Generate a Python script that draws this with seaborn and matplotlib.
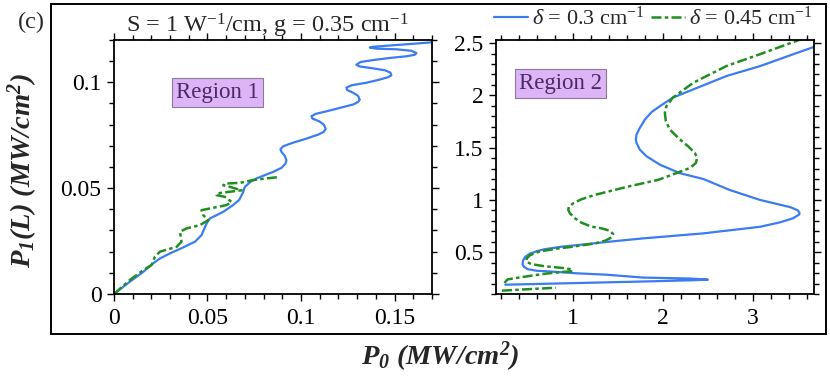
import seaborn as sns
import matplotlib.pyplot as plt
from matplotlib.patches import Rectangle
from matplotlib.lines import Line2D
from matplotlib.ticker import MultipleLocator, FuncFormatter

# Region 1 (left panel)
r1_blue_x = [0, 0.0085, 0.0157, 0.021, 0.0246, 0.030, 0.037, 0.0433, 0.0468, 0.0495, 0.0513,
             0.0584, 0.0637, 0.0670, 0.0690, 0.0700, 0.0730, 0.0762, 0.0851, 0.0896, 0.0917,
             0.0922, 0.0913, 0.0896, 0.0890, 0.0905, 0.0958, 0.1029, 0.1092, 0.1122, 0.1132,
             0.1122, 0.1097, 0.1061, 0.1056, 0.1079, 0.1136, 0.1207, 0.1278, 0.1305, 0.1314,
             0.1305, 0.1278, 0.1246, 0.1243, 0.1270, 0.1350, 0.1421, 0.1465, 0.1483, 0.1478,
             0.1448, 0.1385, 0.1314, 0.1296, 0.1318, 0.1385, 0.1474, 0.1563, 0.1608, 0.1617,
             0.1590, 0.1510, 0.1403, 0.1368, 0.1385, 0.1492, 0.1599, 0.1715]
r1_blue_y = [0, 0.0058, 0.0105, 0.0145, 0.0168, 0.0192, 0.0220, 0.0247, 0.0278, 0.0333, 0.0357,
             0.0388, 0.0420, 0.0445, 0.0480, 0.0506, 0.0530, 0.0546, 0.0577, 0.0596, 0.0616,
             0.0632, 0.0653, 0.0671, 0.0684, 0.0698, 0.0715, 0.0734, 0.0753, 0.0766, 0.0781,
             0.0800, 0.0816, 0.0829, 0.0840, 0.0851, 0.0863, 0.0879, 0.0895, 0.0907, 0.0918,
             0.0936, 0.0951, 0.0964, 0.0975, 0.0986, 0.0998, 0.1013, 0.1024, 0.1033, 0.1046,
             0.1057, 0.1066, 0.1075, 0.1083, 0.1096, 0.1105, 0.1115, 0.1123, 0.1130, 0.1138,
             0.1149, 0.1156, 0.1159, 0.1164, 0.1168, 0.1175, 0.1182, 0.1190]

r1_green_x = [0, 0.0085, 0.0157, 0.0201, 0.0219, 0.0246, 0.0335, 0.0361, 0.0353, 0.0388, 0.0459,
              0.0504, 0.0477, 0.0468, 0.0513, 0.0602, 0.0629, 0.0593, 0.0549, 0.0549, 0.0620,
              0.0682, 0.0620, 0.0584, 0.0602, 0.0673, 0.0743, 0.0815, 0.0887]
r1_green_y = [0, 0.0066, 0.0113, 0.0137, 0.0176, 0.0200, 0.0223, 0.0247, 0.0294, 0.0310, 0.0325,
              0.0349, 0.0373, 0.0396, 0.0404, 0.0420, 0.0435, 0.0459, 0.0467, 0.0475, 0.0483,
              0.0490, 0.0506, 0.0514, 0.0522, 0.0525, 0.0538, 0.0546, 0.0553]

# Region 2 (right panel)
r2_blue_x = [0.248, 0.70, 1.30, 1.90, 2.35, 2.50, 2.30, 1.78, 1.367, 1.04, 0.70, 0.60, 0.50,
             0.455, 0.44, 0.445, 0.47, 0.52, 0.60, 0.689, 0.878, 1.04, 1.40, 1.78, 2.45, 3.08,
             3.30, 3.45, 3.515, 3.52, 3.50, 3.42, 3.25, 3.08, 2.74, 2.45, 2.189, 1.967, 1.819,
             1.744, 1.707, 1.700, 1.707, 1.744, 1.80, 1.874, 1.967, 2.11, 2.34, 2.71, 3.08,
             3.45, 3.70]
r2_blue_y = [0.189, 0.198, 0.210, 0.222, 0.232, 0.237, 0.248, 0.257, 0.285, 0.298, 0.318, 0.322,
             0.337, 0.360, 0.385, 0.420, 0.455, 0.485, 0.510, 0.529, 0.553, 0.567, 0.600, 0.632,
             0.680, 0.743, 0.785, 0.825, 0.860, 0.875, 0.900, 0.930, 0.965, 1.000, 1.096, 1.200,
             1.256, 1.337, 1.417, 1.481, 1.545, 1.577, 1.625, 1.689, 1.769, 1.840, 1.897, 1.978,
             2.058, 2.186, 2.280, 2.394, 2.470]

r2_green_low_x = [0.212, 0.503, 0.81]
r2_green_low_y = [0.132, 0.146, 0.160]

r2_green_x = [0.240, 0.248, 0.274, 0.367, 0.515, 0.70, 0.885, 0.996, 0.978, 0.885, 0.689, 0.541,
              0.485, 0.485, 0.522, 0.615, 0.80, 0.985, 1.244, 1.356, 1.43, 1.448, 1.411, 1.319,
              1.207, 1.096, 1.022, 0.967, 0.948, 0.956, 1.004, 1.096, 1.244, 1.614, 1.948,
              2.152, 2.30, 2.367, 2.381, 2.356, 2.281, 2.17, 2.078, 2.033, 2.022, 2.04, 2.11,
              2.34, 2.71, 3.08, 3.56]
r2_green_y = [0.205, 0.215, 0.240, 0.253, 0.272, 0.295, 0.311, 0.317, 0.337, 0.349, 0.365, 0.385,
              0.407, 0.439, 0.471, 0.503, 0.532, 0.551, 0.583, 0.609, 0.641, 0.673, 0.705, 0.728,
              0.744, 0.782, 0.824, 0.872, 0.904, 0.936, 0.968, 1.007, 1.048, 1.128, 1.192,
              1.257, 1.305, 1.353, 1.401, 1.449, 1.513, 1.593, 1.673, 1.753, 1.833, 1.897, 1.978,
              2.122, 2.282, 2.394, 2.545]

blue = "#3b7cf0"
green = "#1f8f1f"
dash_dot = (0, (4, 1.3, 1.4, 1.3))

sns.set_theme(style="ticks")
plt.rcParams["font.family"] = ["Liberation Serif", "DejaVu Serif"]
plt.rcParams["mathtext.fontset"] = "custom"
plt.rcParams["mathtext.rm"] = "Liberation Serif"
plt.rcParams["mathtext.it"] = "Liberation Serif:italic"
plt.rcParams["mathtext.bf"] = "Liberation Serif:bold:italic"

fig = plt.figure(figsize=(8.3, 3.92), dpi=100)
ax1 = fig.add_axes([0.1373, 0.25, 0.3831, 0.648])
ax2 = fig.add_axes([0.5976, 0.25, 0.3831, 0.648])

sns.lineplot(x=r1_blue_x, y=r1_blue_y, sort=False, estimator=None, color=blue, lw=1.6, ax=ax1)
sns.lineplot(x=r1_green_x, y=r1_green_y, sort=False, estimator=None, color=green, lw=1.8,
             linestyle=dash_dot, ax=ax1)

sns.lineplot(x=r2_blue_x, y=r2_blue_y, sort=False, estimator=None, color=blue, lw=1.6, ax=ax2)
sns.lineplot(x=r2_green_low_x, y=r2_green_low_y, sort=False, estimator=None, color=green, lw=1.8,
             linestyle=dash_dot, ax=ax2)
sns.lineplot(x=r2_green_x, y=r2_green_y, sort=False, estimator=None, color=green, lw=1.8,
             linestyle=dash_dot, ax=ax2)

ax1.set_xlim(0, 0.17)
ax1.set_ylim(0, 0.12)
ax1.xaxis.set_major_locator(MultipleLocator(0.05))
ax1.xaxis.set_minor_locator(MultipleLocator(0.01))
ax1.yaxis.set_major_locator(MultipleLocator(0.05))
ax1.yaxis.set_minor_locator(MultipleLocator(0.01))

ax2.set_xlim(0.145, 3.68)
ax2.set_ylim(0.1, 2.53)
ax2.xaxis.set_major_locator(MultipleLocator(1))
ax2.xaxis.set_minor_locator(MultipleLocator(0.2))
ax2.yaxis.set_major_locator(MultipleLocator(0.5))
ax2.yaxis.set_minor_locator(MultipleLocator(0.1))

fmt = FuncFormatter(lambda v, p: "%g" % round(v, 4))
for ax in (ax1, ax2):
    ax.xaxis.set_major_formatter(fmt)
    ax.yaxis.set_major_formatter(fmt)
    ax.set_xlabel("")
    ax.set_ylabel("")
    for s in ax.spines.values():
        s.set_visible(True)
        s.set_linewidth(1.3)
        s.set_color("black")
    ax.tick_params(which="both", direction="out", top=True, right=True,
                   labeltop=False, labelright=False, width=1, colors="black",
                   labelsize=17)
    ax.tick_params(which="major", length=5)
    ax.tick_params(which="minor", length=3.5)
    ax.tick_params(axis="x", which="major", pad=5)
    ax.tick_params(axis="y", which="major", pad=4)

ax1.text(0.0553, 0.0953, "Region 1", ha="center", va="center", fontsize=16.5, color="#4b2b63",
         bbox=dict(boxstyle="square,pad=0.17", fc="#dcb4f7", ec="#8c7a9c", lw=0.8))
ax2.text(0.864, 2.115, "Region 2", ha="center", va="center", fontsize=16.5, color="#4b2b63",
         bbox=dict(boxstyle="square,pad=0.17", fc="#dcb4f7", ec="#8c7a9c", lw=0.8))

handles = [Line2D([], [], color=blue, lw=1.6),
           Line2D([], [], color=green, lw=1.8, linestyle=dash_dot)]
ax2.legend(handles, [r"$\delta$ = 0.3 cm$^{-1}$", r"$\delta$ = 0.45 cm$^{-1}$"],
           loc="center left", bbox_to_anchor=(-0.005, 1.085), ncol=2, frameon=False,
           fontsize=16, handlelength=1.5, handletextpad=0.2, columnspacing=0.3,
           borderpad=0, borderaxespad=0)

fig.text(0.322, 0.916, r"S = 1 W$^{-1}$/cm, g = 0.35 cm$^{-1}$", ha="center", va="baseline",
         fontsize=17.5)
fig.text(0.038, 0.943, "(c)", ha="center", va="center", fontsize=17.5)

fig.text(0.53, 0.09, r"$\mathbf{P_0\ (MW/cm^2)}$", ha="center", va="center", fontsize=20.5)
fig.text(0.027, 0.565, r"$\mathbf{P_1(L)\ (MW/cm^2)}$", ha="center", va="center", fontsize=20.5,
         rotation=90)

fig.patches.append(Rectangle((0.0614, 0.148), 0.934, 0.842, transform=fig.transFigure,
                             fill=False, ec="black", lw=1.4))

fig.savefig("out.png", dpi=100)
